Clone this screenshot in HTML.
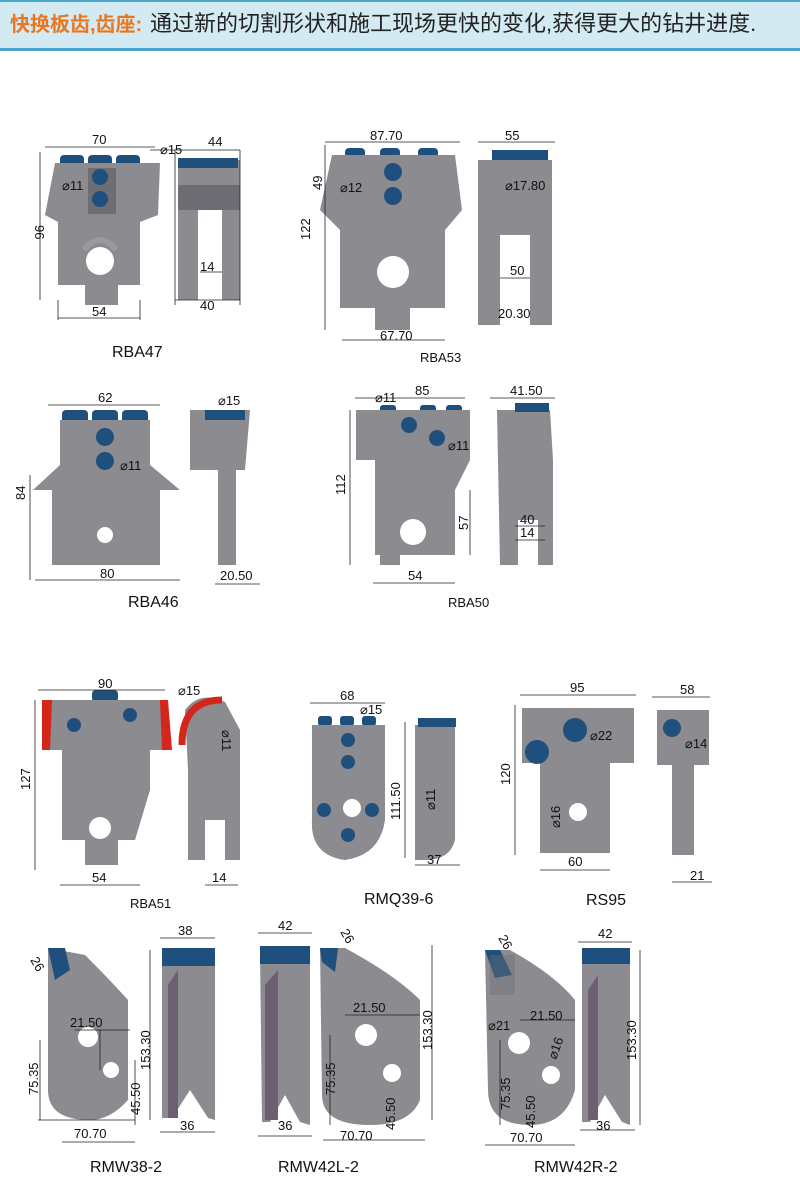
<!DOCTYPE html>
<html><head><meta charset="utf-8"><style>
body{margin:0;background:#fff;width:800px;height:1188px;overflow:hidden}
svg{display:block}
text{font-family:"Liberation Sans","Noto Sans CJK SC",sans-serif}
.d{font-size:13px;fill:#111}
.n{font-size:16px;fill:#111}
.dl{stroke:#222;stroke-width:.8;fill:none}
.g{fill:#8c8b90}
.gd{fill:#6e6d73}
.b{fill:#1f4f7c}
.h{fill:#fff}
</style></head><body>
<svg width="800" height="1188" viewBox="0 0 800 1188" xmlns="http://www.w3.org/2000/svg">
<rect x="0" y="0" width="800" height="48" fill="#d3eaf2"/>
<rect x="0" y="48" width="800" height="3" fill="#49a6c6"/>
<rect x="0" y="0" width="800" height="2" fill="#49a6c6"/>
<text x="10" y="31" font-size="20" fill="#e87722" font-weight="bold" font-family="'Noto Sans CJK SC',sans-serif">快换板齿,齿座:</text>
<text x="150" y="31" font-size="22" fill="#222" font-family="'Noto Serif CJK SC','Noto Sans CJK SC',serif">通过新的切割形状和施工现场更快的变化,获得更大的钻井进度.</text>

<!-- RBA47 -->
<g>
<rect x="60" y="155" width="24" height="12" rx="4" class="b"/><rect x="88" y="155" width="24" height="12" rx="4" class="b"/><rect x="116" y="155" width="24" height="12" rx="4" class="b"/>
<path d="M55 163 H160 L158 215 L140 222 V285 H118 V305 H85 V285 H58 V222 L45 215 Z" class="g"/>
<rect x="88" y="168" width="28" height="46" class="gd"/>
<circle cx="100" cy="177" r="8" class="b"/><circle cx="100" cy="199" r="8" class="b"/>
<circle cx="100" cy="261" r="14" class="h"/>
<path d="M84 250 Q100 230 116 250" stroke="#9a999e" stroke-width="6" fill="none"/>
<path d="M178 160 H240 V300 H222 V210 H198 V300 H178 Z" class="g"/>
<rect x="178" y="158" width="60" height="10" class="b"/>
<rect x="178" y="185" width="62" height="25" class="gd"/>
<path class="dl" d="M45 147 H155 M40 152 V300 M58 300 V320 M140 300 V320 M58 318 H140 M175 150 V305 M240 150 V305 M175 150 H240 M175 300 H240 M200 272 H222 M150 150 L185 150"/>
<text class="d" x="92" y="144">70</text><text class="d" x="160" y="154">⌀15</text><text class="d" x="208" y="146">44</text>
<text class="d" x="35" y="225" transform="rotate(90 35 225)">96</text><text class="d" x="62" y="190">⌀11</text>
<text class="d" x="200" y="271">14</text><text class="d" x="200" y="310">40</text><text class="d" x="92" y="316">54</text>
<text class="n" x="112" y="357">RBA47</text>
</g>

<!-- RBA53 -->
<g>
<rect x="345" y="148" width="20" height="10" rx="4" class="b"/><rect x="380" y="148" width="20" height="10" rx="4" class="b"/><rect x="418" y="148" width="20" height="10" rx="4" class="b"/>
<path d="M332 155 H455 L462 210 L445 230 V308 H410 V330 H375 V308 H340 V230 L320 210 Z" class="g"/>
<circle cx="393" cy="172" r="9" class="b"/><circle cx="393" cy="196" r="9" class="b"/>
<circle cx="393" cy="272" r="16" class="h"/>
<path d="M478 160 H552 V325 H530 V235 H500 V325 H478 Z" class="g"/>
<rect x="492" y="150" width="56" height="10" class="b"/>
<path class="dl" d="M325 142 H460 M325 145 V330 M342 340 H445 M478 142 H555 M500 278 H530"/>
<text class="d" x="370" y="140">87.70</text><text class="d" x="505" y="140">55</text><text class="d" x="340" y="192">⌀12</text><text class="d" x="505" y="190">⌀17.80</text>
<text class="d" x="310" y="240" transform="rotate(-90 310 240)" font-size="10">122</text><text class="d" x="322" y="190" font-size="10" transform="rotate(-90 322 190)">49</text>
<text class="d" x="510" y="275" font-size="10">50</text><text class="d" x="498" y="318" font-size="10">20.30</text><text class="d" x="380" y="340" font-size="10">67.70</text>
<text class="d" x="420" y="362">RBA53</text>
</g>

<!-- RBA46 -->
<g>
<rect x="62" y="410" width="26" height="14" rx="4" class="b"/><rect x="92" y="410" width="26" height="14" rx="4" class="b"/><rect x="122" y="410" width="26" height="14" rx="4" class="b"/>
<path d="M60 420 H150 V465 L180 490 H160 V565 H52 V490 H33 L60 465 Z" class="g"/>
<circle cx="105" cy="437" r="9" class="b"/><circle cx="105" cy="461" r="9" class="b"/>
<circle cx="105" cy="535" r="8" class="h"/>
<path d="M190 410 H250 L245 470 H236 V565 H218 V470 H190 Z" class="g"/>
<rect x="205" y="410" width="40" height="10" class="b"/>
<path class="dl" d="M48 405 H160 M30 475 V580 M35 580 H180 M215 584 H260"/>
<text class="d" x="98" y="402">62</text><text class="d" x="218" y="405">⌀15</text><text class="d" x="120" y="470">⌀11</text>
<text class="d" x="25" y="500" transform="rotate(-90 25 500)">84</text><text class="d" x="100" y="578">80</text><text class="d" x="220" y="580">20.50</text>
<text class="n" x="128" y="607">RBA46</text>
</g>

<!-- RBA50 -->
<g>
<rect x="380" y="405" width="16" height="10" rx="3" class="b"/><rect x="420" y="405" width="16" height="10" rx="3" class="b"/><rect x="446" y="405" width="16" height="10" rx="3" class="b"/>
<path d="M356 410 H470 V460 L455 490 V555 H400 V565 H380 V555 H375 V460 H356 Z" class="g"/>
<circle cx="409" cy="425" r="8" class="b"/><circle cx="437" cy="438" r="8" class="b"/>
<circle cx="413" cy="532" r="13" class="h"/>
<path d="M497 410 H550 L553 460 V565 H538 V520 H518 V565 H500 Z" class="g"/>
<rect x="515" y="403" width="34" height="9" class="b"/>
<path class="dl" d="M355 398 H465 M350 410 V565 M373 583 H455 M490 398 H555 M515 526 H545 M515 540 H545 M470 490 V555"/>
<text class="d" x="415" y="395">85</text><text class="d" x="510" y="395">41.50</text><text class="d" x="375" y="402" font-size="10">⌀11</text><text class="d" x="448" y="450" font-size="10">⌀11</text>
<text class="d" x="345" y="495" transform="rotate(-90 345 495)">112</text><text class="d" x="468" y="530" transform="rotate(-90 468 530)">57</text>
<text class="d" x="520" y="524" font-size="11">40</text><text class="d" x="520" y="537" font-size="10">14</text><text class="d" x="408" y="580">54</text>
<text class="d" x="448" y="607">RBA50</text>
</g>

<!-- RBA51 -->
<g>
<rect x="92" y="690" width="26" height="12" rx="4" class="b"/>
<path d="M50 700 H160 L168 750 H150 V790 L135 840 H118 V865 H85 V840 H62 V750 H42 Z" class="g"/>
<path d="M42 700 L52 700 L50 750 H42 Z M160 700 H168 L172 750 H162 Z" fill="#d4261a"/>
<circle cx="74" cy="725" r="7" class="b"/><circle cx="130" cy="715" r="7" class="b"/>
<circle cx="100" cy="828" r="11" class="h"/>
<path d="M185 710 Q200 690 225 702 L240 730 V860 H225 V820 H205 V860 H188 V770 Z" class="g"/>
<path d="M182 745 Q182 700 222 700" stroke="#d4261a" stroke-width="7" fill="none"/>
<path class="dl" d="M38 690 H165 M35 700 V870 M60 885 H140 M205 885 H238"/>
<text class="d" x="98" y="688">90</text><text class="d" x="178" y="695">⌀15</text><text class="d" x="222" y="730" transform="rotate(90 222 730)" font-size="10">⌀11</text>
<text class="d" x="30" y="790" transform="rotate(-90 30 790)" font-size="10">127</text><text class="d" x="92" y="882" font-size="10">54</text><text class="d" x="212" y="882" font-size="10">14</text>
<text class="d" x="130" y="908" font-size="11">RBA51</text>
</g>

<!-- RMQ39-6 -->
<g>
<rect x="318" y="716" width="14" height="10" rx="3" class="b"/><rect x="340" y="716" width="14" height="10" rx="3" class="b"/><rect x="362" y="716" width="14" height="10" rx="3" class="b"/>
<path d="M312 725 H385 V775 L385 820 Q380 855 345 860 Q310 855 312 820 Z" class="g"/>
<circle cx="348" cy="740" r="7" class="b"/><circle cx="348" cy="762" r="7" class="b"/>
<circle cx="324" cy="810" r="7" class="b"/><circle cx="372" cy="810" r="7" class="b"/><circle cx="348" cy="835" r="7" class="b"/>
<circle cx="352" cy="808" r="9" class="h"/>
<path d="M415 725 H455 V840 Q450 860 425 860 H415 Z" class="g"/>
<rect x="418" y="718" width="38" height="9" class="b"/>
<path class="dl" d="M310 703 H385 M405 722 V858 M415 865 H460"/>
<text class="d" x="340" y="700">68</text><text class="d" x="360" y="714">⌀15</text>
<text class="d" x="400" y="820" transform="rotate(-90 400 820)">111.50</text><text class="d" x="435" y="810" transform="rotate(-90 435 810)" font-size="10">⌀11</text>
<text class="d" x="427" y="864">37</text><text class="n" x="364" y="904">RMQ39-6</text>
</g>

<!-- RS95 -->
<g>
<rect x="522" y="708" width="112" height="55" class="g"/>
<rect x="540" y="763" width="70" height="90" class="g"/>
<circle cx="575" cy="730" r="12" class="b"/><circle cx="537" cy="752" r="12" class="b"/>
<circle cx="578" cy="812" r="9" class="h"/>
<rect x="657" y="710" width="52" height="55" class="g"/>
<rect x="672" y="765" width="22" height="90" class="g"/>
<circle cx="672" cy="728" r="9" class="b"/>
<path class="dl" d="M520 695 H636 M515 705 V855 M540 870 H610 M652 697 H710 M672 882 H712"/>
<text class="d" x="570" y="692">95</text><text class="d" x="680" y="694">58</text><text class="d" x="590" y="740">⌀22</text><text class="d" x="685" y="748">⌀14</text>
<text class="d" x="510" y="785" transform="rotate(-90 510 785)">120</text><text class="d" x="560" y="828" transform="rotate(-90 560 828)" font-size="10">⌀16</text>
<text class="d" x="568" y="866">60</text><text class="d" x="690" y="880">21</text><text class="n" x="586" y="905">RS95</text>
</g>

<!-- RMW38-2 -->
<g>
<path d="M48 948 L85 955 Q110 980 128 1000 L128 1100 Q110 1120 90 1120 Q48 1120 48 1090 Z" class="g"/>
<path d="M48 948 H65 L70 970 L55 980 Z" class="b"/>
<circle cx="88" cy="1037" r="10" class="h"/><circle cx="111" cy="1070" r="8" class="h"/>
<path d="M162 950 H215 V1120 L208 1118 L190 1090 L172 1118 L162 1118 Z" class="g"/>
<path d="M168 985 L178 970 V1118 H168 Z" fill="#6a6072"/>
<rect x="162" y="948" width="53" height="18" class="b"/>
<path class="dl" d="M38 1120 H135 M62 1142 H135 M160 938 H215 M160 1132 H215 M150 950 V1120 M75 1030 H130 M100 1030 V1070 M40 1040 V1120 M135 1060 V1125"/>
<text class="d" x="178" y="935">38</text><text class="d" x="70" y="1027">21.50</text>
<text class="d" x="150" y="1070" transform="rotate(-90 150 1070)">153.30</text>
<text class="d" x="38" y="1095" transform="rotate(-90 38 1095)">75.35</text><text class="d" x="140" y="1115" transform="rotate(-90 140 1115)">45.50</text>
<text class="d" x="74" y="1138">70.70</text><text class="d" x="180" y="1130">36</text><text class="d" x="30" y="960" transform="rotate(60 30 960)">26</text>
<text class="n" x="90" y="1172">RMW38-2</text>
</g>

<!-- RMW42L-2 -->
<g>
<path d="M260 950 H310 V1125 L300 1122 L285 1095 L270 1122 L262 1122 Z" class="g"/>
<rect x="260" y="946" width="50" height="18" class="b"/>
<path d="M265 985 L278 970 V1120 H265 Z" fill="#6a6072"/>
<path d="M320 948 L345 948 Q395 975 420 1000 V1100 Q410 1125 370 1125 Q322 1125 322 1095 Z" class="g"/>
<path d="M320 948 H338 L335 972 L322 962 Z" class="b"/>
<circle cx="366" cy="1035" r="11" class="h"/><circle cx="392" cy="1073" r="9" class="h"/>
<path class="dl" d="M258 933 H312 M258 1136 H312 M323 1140 H425 M432 945 V1120 M330 1035 V1125 M345 1015 H420"/>
<text class="d" x="278" y="930">42</text><text class="d" x="353" y="1012">21.50</text>
<text class="d" x="432" y="1050" transform="rotate(-90 432 1050)">153.30</text>
<text class="d" x="335" y="1095" transform="rotate(-90 335 1095)">75.35</text><text class="d" x="395" y="1130" transform="rotate(-90 395 1130)">45.50</text>
<text class="d" x="340" y="1140">70.70</text><text class="d" x="278" y="1130">36</text><text class="d" x="340" y="932" transform="rotate(60 340 932)">26</text>
<text class="n" x="278" y="1172">RMW42L-2</text>
</g>

<!-- RMW42R-2 -->
<g>
<path d="M485 950 H510 Q555 975 575 1000 V1090 Q565 1125 530 1125 Q488 1125 488 1090 Z" class="g"/>
<path d="M485 950 H500 L512 975 L495 978 Z" class="b"/>
<rect x="490" y="955" width="25" height="40" class="gd" opacity=".4"/>
<circle cx="519" cy="1043" r="11" class="h"/><circle cx="551" cy="1075" r="9" class="h"/>
<path d="M582 952 H630 V1125 L622 1122 L605 1095 L590 1122 L582 1122 Z" class="g"/>
<rect x="582" y="948" width="48" height="16" class="b"/>
<path d="M588 990 L598 975 V1120 H588 Z" fill="#6a6072"/>
<path class="dl" d="M578 942 H632 M580 1130 H635 M640 950 V1125 M485 1145 H575 M500 1040 V1125 M520 1020 H575"/>
<text class="d" x="598" y="938">42</text><text class="d" x="530" y="1020">21.50</text><text class="d" x="488" y="1030">⌀21</text>
<text class="d" x="636" y="1060" transform="rotate(-90 636 1060)">153.30</text>
<text class="d" x="510" y="1110" transform="rotate(-90 510 1110)">75.35</text><text class="d" x="535" y="1128" transform="rotate(-90 535 1128)">45.50</text>
<text class="d" x="556" y="1060" transform="rotate(-70 556 1060)" font-size="10">⌀16</text>
<text class="d" x="510" y="1142">70.70</text><text class="d" x="596" y="1130">36</text><text class="d" x="498" y="938" transform="rotate(60 498 938)">26</text>
<text class="n" x="534" y="1172">RMW42R-2</text>
</g>
</svg>
</body></html>
